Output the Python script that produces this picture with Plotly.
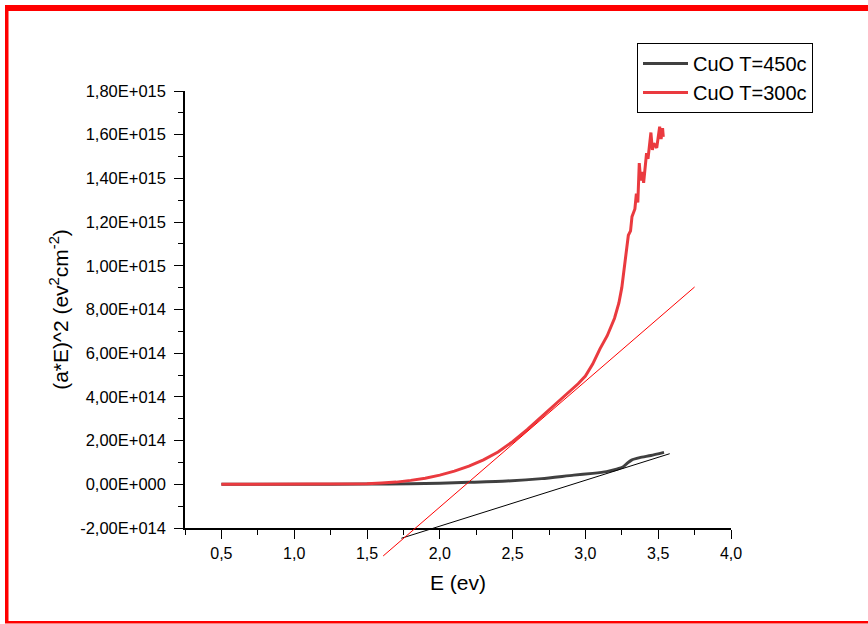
import plotly.graph_objects as go

# ---------------- data ----------------
E_450 = [0.5, 1.0, 1.5, 1.8, 2.0, 2.2, 2.46, 2.7, 2.92, 3.05, 3.145, 3.214, 3.26,
         3.29, 3.317, 3.373, 3.45, 3.54]
Y_450 = [0, 0, 0.1e13, 0.3e13, 0.5e13, 0.9e13, 1.5e13, 2.6e13, 4.2e13, 5.0e13, 5.8e13,
         6.9e13, 8.0e13, 9.8e13, 11.1e13, 12.2e13, 13.2e13, 14.6e13]

E_300 = [0.5, 1.0, 1.3, 1.5, 1.6, 1.7, 1.8, 1.9, 2.0, 2.1, 2.2, 2.3, 2.4, 2.5, 2.6,
         2.7, 2.8, 2.9, 2.95, 3.0, 3.05, 3.1, 3.15, 3.2, 3.23, 3.25, 3.27, 3.285,
         3.295, 3.31, 3.32, 3.34, 3.35, 3.36, 3.37, 3.38, 3.39, 3.40, 3.42, 3.43,
         3.45, 3.46, 3.47, 3.49, 3.51, 3.52, 3.53, 3.535]
Y_300 = [0, 0, 0, 0.3e13, 0.6e13, 1.0e13, 1.8e13, 2.8e13, 4.2e13, 6.0e13, 8.3e13,
         11.2e13, 14.8e13, 19.5e13, 25.0e13, 31.0e13, 37.0e13, 43.0e13, 46.0e13,
         49.5e13, 55.0e13, 62.0e13, 68.0e13, 76.0e13, 83.0e13, 90.0e13, 100.0e13,
         108.0e13, 114.0e13, 116.0e13, 122.5e13, 126.0e13, 133.0e13, 129.0e13,
         147.0e13, 139.0e13, 143.0e13, 138.0e13, 151.5e13, 149.0e13, 161.0e13,
         153.0e13, 156.0e13, 154.0e13, 163.7e13, 158.0e13, 163.0e13, 159.0e13]

FIT_300_E = [1.611, 3.75]
FIT_300_Y = [-3.28e14, 9.03e14]
FIT_450_E = [1.736, 3.579]
FIT_450_Y = [-2.47e14, 1.40e14]

X_TICK_VALS = [0.5, 1.0, 1.5, 2.0, 2.5, 3.0, 3.5, 4.0]
X_TICK_TEXT = ["0,5", "1,0", "1,5", "2,0", "2,5", "3,0", "3,5", "4,0"]
Y_TICK_VALS = [-2e14, 0, 2e14, 4e14, 6e14, 8e14, 1e15, 1.2e15, 1.4e15, 1.6e15, 1.8e15]
Y_TICK_TEXT = ["-2,00E+014", "0,00E+000", "2,00E+014", "4,00E+014", "6,00E+014",
               "8,00E+014", "1,00E+015", "1,20E+015", "1,40E+015", "1,60E+015",
               "1,80E+015"]

SERIES_NAMES = ["CuO T=450c", "CuO T=300c"]

# ---------------- layout geometry ----------------
W, H = 868, 624
ML, MR, MT, MB = 185, 137, 91, 64
PLOT_W = W - ML - MR
PLOT_H = H - MT - MB
AXIS_BOTTOM_PX = 528  # pixel row of x axis
d0 = (H - MB - AXIS_BOTTOM_PX) / PLOT_H  # fraction below x axis (for tangent overflow)

X_RANGE = [0.25, 4.0]
Y_RANGE = [-2e14, 1.8e15]
y2_low = Y_RANGE[0] - d0 * (Y_RANGE[1] - Y_RANGE[0]) / (1 - d0)

FONT = "Arial, Liberation Sans, sans-serif"

fig = go.Figure()
fig.add_trace(go.Scatter(x=E_450, y=Y_450, mode="lines", name=SERIES_NAMES[0],
                         line=dict(color="#404040", width=3, shape="spline", smoothing=0.6),
                         xaxis="x", yaxis="y"))
fig.add_trace(go.Scatter(x=E_300, y=Y_300, mode="lines", name=SERIES_NAMES[1],
                         line=dict(color="#EA3A3F", width=3), xaxis="x", yaxis="y"))
fig.add_trace(go.Scatter(x=FIT_450_E, y=FIT_450_Y, mode="lines", showlegend=False,
                         line=dict(color="black", width=1), xaxis="x2", yaxis="y2"))
fig.add_trace(go.Scatter(x=FIT_300_E, y=FIT_300_Y, mode="lines", showlegend=False,
                         line=dict(color="#FF0000", width=1), xaxis="x2", yaxis="y2"))


def px2paper_x(px):
    return (px - ML) / PLOT_W


def px2paper_y(py):
    return (H - MB - py) / PLOT_H


shapes = [
    # red frame (decoration)
    dict(type="rect", xref="paper", yref="paper", x0=px2paper_x(5), x1=px2paper_x(868),
         y0=px2paper_y(5), y1=px2paper_y(11), fillcolor="#FF0000", line=dict(width=0),
         layer="above"),
    dict(type="rect", xref="paper", yref="paper", x0=px2paper_x(5), x1=px2paper_x(8.5),
         y0=px2paper_y(5), y1=px2paper_y(623), fillcolor="#FF0000", line=dict(width=0),
         layer="above"),
    dict(type="rect", xref="paper", yref="paper", x0=px2paper_x(5), x1=px2paper_x(868),
         y0=px2paper_y(621), y1=px2paper_y(623.5), fillcolor="#FF0000", line=dict(width=0),
         layer="above"),
]

fig.update_layout(
    width=W, height=H,
    margin=dict(l=ML, r=MR, t=MT, b=MB, pad=0),
    paper_bgcolor="white", plot_bgcolor="rgba(0,0,0,0)",
    font=dict(family=FONT, color="black", size=16),
    shapes=shapes,
    showlegend=True,
    legend=dict(x=px2paper_x(637), y=px2paper_y(43), xanchor="left", yanchor="top",
                bordercolor="black", borderwidth=1, bgcolor="white",
                font=dict(size=20, family=FONT, color="black"),
                itemwidth=45, tracegroupgap=0),
    xaxis=dict(domain=[0, 1], range=X_RANGE, anchor="y", showgrid=False, zeroline=False,
               showline=True, linecolor="black", linewidth=1.5,
               tickmode="array", tickvals=X_TICK_VALS, ticktext=X_TICK_TEXT,
               ticks="outside", ticklen=9, tickwidth=1, tickcolor="black",
               ticklabelstandoff=1,
               minor=dict(ticks="outside", ticklen=5, tickwidth=1, tickcolor="black",
                          dtick=0.25, tick0=0.25, showgrid=False),
               tickfont=dict(size=16),
               title=dict(text="E (ev)", font=dict(size=21), standoff=14)),
    yaxis=dict(domain=[d0, 1], range=Y_RANGE, anchor="x", showgrid=False, zeroline=False,
               showline=True, linecolor="black", linewidth=1.5,
               tickmode="array", tickvals=Y_TICK_VALS, ticktext=Y_TICK_TEXT,
               ticks="outside", ticklen=9, tickwidth=1, tickcolor="black",
               ticklabelstandoff=5,
               minor=dict(ticks="outside", ticklen=5, tickwidth=1, tickcolor="black",
                          dtick=1e14, tick0=0, showgrid=False),
               tickfont=dict(size=16.5),
               title=dict(text="(a*E)^2 (ev<sup>2</sup>cm<sup>-2</sup>)",
                          font=dict(size=21), standoff=6)),
    xaxis2=dict(domain=[0, 1], range=X_RANGE, anchor="y2", visible=False,
                showgrid=False, zeroline=False),
    yaxis2=dict(domain=[0, 1], range=[y2_low, Y_RANGE[1]], anchor="x2", visible=False,
                showgrid=False, zeroline=False),
)

fig.write_html("out.html")
